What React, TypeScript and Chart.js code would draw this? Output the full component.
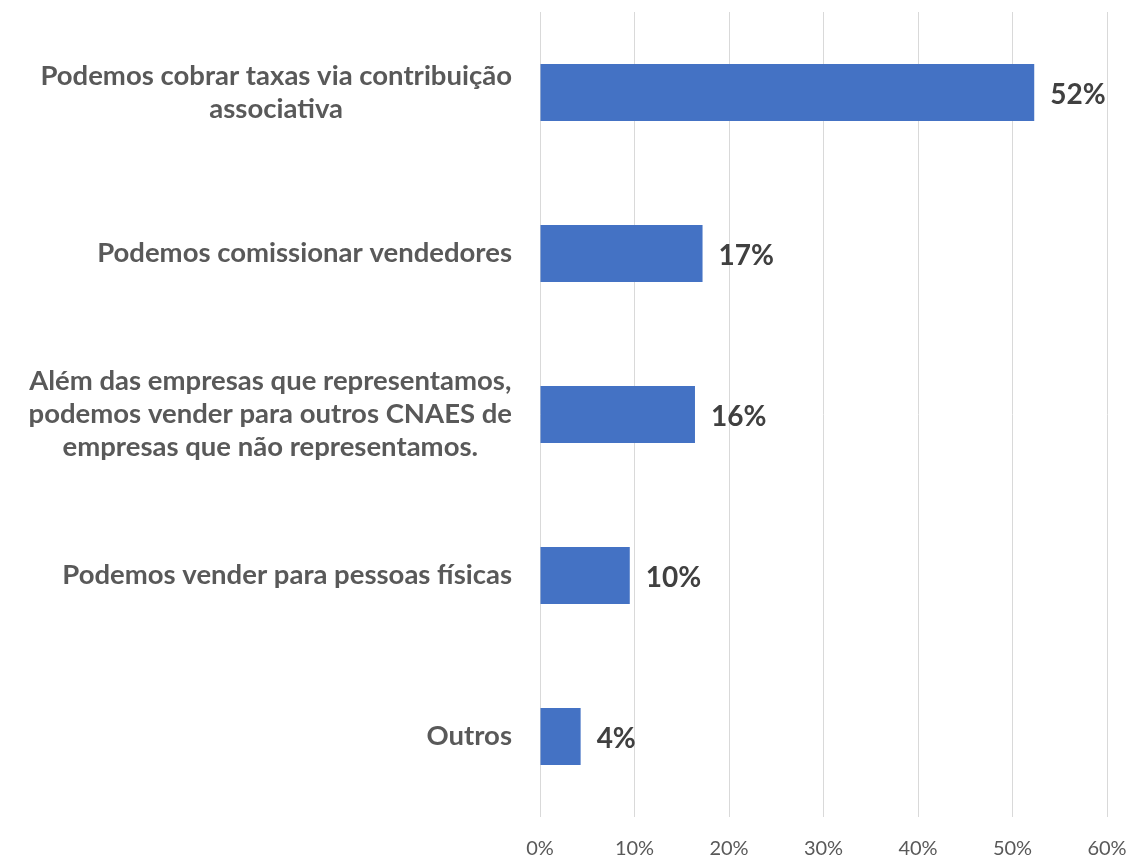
import React, { useEffect, useRef } from "react";
import { Chart, registerables } from "chart.js";

Chart.register(...registerables);

const categories: string[][] = [
  ["Podemos cobrar taxas via contribuição", "associativa"],
  ["Podemos comissionar vendedores"],
  ["Além das empresas que representamos,", "podemos vender para outros CNAES de", "empresas que não representamos."],
  ["Podemos vender para pessoas físicas"],
  ["Outros"],
];
const values: number[] = [52.3, 17.2, 16.4, 9.5, 4.3];
const xTicks: number[] = [0, 10, 20, 30, 40, 50, 60];

const FONT = "Lato, 'Noto Sans', sans-serif";
const TEXT_COLOR = "#595959";

const categoryLabelPlugin = {
  id: "categoryLabels",
  afterDraw(chart: any) {
    const ctx = chart.ctx;
    const yScale = chart.scales.y;
    const xScale = chart.scales.x;
    ctx.save();
    ctx.font = `bold 27.5px ${FONT}`;
    ctx.fillStyle = TEXT_COLOR;
    ctx.textAlign = "center";
    ctx.textBaseline = "middle";
    const lineH = 33;
    categories.forEach((lines, i) => {
      const yc = yScale.getPixelForValue(i);
      const maxW = Math.max(...lines.map((l) => ctx.measureText(l).width));
      const cx = xScale.left - 28 - maxW / 2;
      lines.forEach((line, j) => {
        const y = yc + (j - (lines.length - 1) / 2) * lineH;
        ctx.fillText(line, cx, y);
      });
    });
    ctx.restore();
  },
};

const valueLabelPlugin = {
  id: "valueLabels",
  afterDatasetsDraw(chart: any) {
    const ctx = chart.ctx;
    const meta = chart.getDatasetMeta(0);
    ctx.save();
    ctx.font = `bold 28px ${FONT}`;
    ctx.fillStyle = "#404040";
    ctx.textAlign = "left";
    ctx.textBaseline = "middle";
    meta.data.forEach((bar: any, i: number) => {
      ctx.fillText(Math.round(values[i]) + "%", bar.x + 16, bar.y + 2);
    });
    ctx.restore();
  },
};

export default function App() {
  const ref = useRef<HTMLCanvasElement | null>(null);
  useEffect(() => {
    document.body.style.margin = "0";
    if (!ref.current) return;
    const chart = new Chart(ref.current, {
      type: "bar",
      data: {
        labels: categories.map((c) => c.join(" ")),
        datasets: [
          {
            data: values,
            backgroundColor: "#4472C4",
            borderWidth: 0,
            barPercentage: 0.355,
            categoryPercentage: 1,
          },
        ],
      },
      options: {
        indexAxis: "y",
        responsive: false,
        animation: false,
        layout: { padding: { top: 12, right: 22, left: 0, bottom: 0 } },
        plugins: { legend: { display: false }, tooltip: { enabled: false } },
        scales: {
          x: {
            min: 0,
            max: 60,
            afterBuildTicks: (scale: any) => {
              scale.ticks = xTicks.map((v) => ({ value: v }));
            },
            afterFit: (scale: any) => {
              scale.height = 41;
              scale.paddingLeft = 0;
              scale.paddingRight = 0;
            },
            grid: { color: "#d9d9d9", lineWidth: 1, drawTicks: false },
            border: { display: false },
            ticks: {
              padding: 20,
              color: TEXT_COLOR,
              font: { family: FONT, size: 20 },
              callback: (v: any) => v + "%",
            },
          },
          y: {
            afterFit: (scale: any) => {
              scale.width = 540;
            },
            grid: { display: false },
            border: { display: false },
            ticks: { display: false },
          },
        },
      },
      plugins: [categoryLabelPlugin, valueLabelPlugin],
    });
    return () => chart.destroy();
  }, []);
  return (
    <div style={{ width: 1129, height: 858, background: "#fff" }}>
      <canvas ref={ref} width={1129} height={858} />
    </div>
  );
}
